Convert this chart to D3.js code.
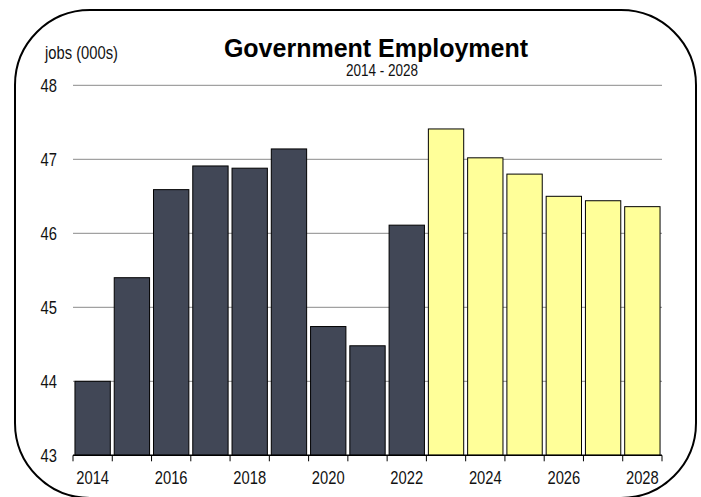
<!DOCTYPE html>
<html><head><meta charset="utf-8">
<script src="https://cdn.jsdelivr.net/npm/d3@7"></script>
<style>
body{margin:0;background:#fff;}
svg{display:block;}
.nar{font-family:"Liberation Sans",Arial,sans-serif;}
</style></head>
<body>
<svg id="c" width="701" height="497"></svg>
<script>
const years = [2014,2015,2016,2017,2018,2019,2020,2021,2022,2023,2024,2025,2026,2027,2028];
const jobs = [44.0,45.4,46.59,46.91,46.88,47.14,44.74,44.48,46.11,47.41,47.02,46.80,46.50,46.44,46.36];
const projected = [false,false,false,false,false,false,false,false,false,true,true,true,true,true,true];
const yTicks = [43,44,45,46,47,48];
const xLabels = [2014,2016,2018,2020,2022,2024,2026,2028];

const svg = d3.select("#c");
const L = 73, R = 662, T = 85.3, B = 455.3;
const SX = 0.82;

const x = d3.scaleBand().domain(years).range([L,R]).paddingInner(0.1).paddingOuter(0.05);
const y = d3.scaleLinear().domain([43,48]).range([B,T]);

// border
svg.append("rect").attr("x",15).attr("y",10).attr("width",681).attr("height",488)
  .attr("rx",75).attr("ry",75).attr("fill","#fff").attr("stroke","#000").attr("stroke-width",2);

// gridlines
svg.append("g").selectAll("line").data(yTicks.filter(d=>d>43)).join("line")
  .attr("x1",L).attr("x2",R).attr("y1",d=>y(d)).attr("y2",d=>y(d))
  .attr("stroke","#8a8a8a").attr("stroke-width",1);

// y labels
svg.append("g").attr("class","nar").selectAll("text").data(yTicks).join("text")
  .attr("transform",d=>`translate(57,${y(d)+6.5}) scale(${SX},1)`).attr("text-anchor","end")
  .attr("font-size",18).attr("fill","#111").text(d=>d);

// bars
svg.append("g").selectAll("rect").data(years).join("rect")
  .attr("x",d=>x(d)).attr("width",x.bandwidth())
  .attr("y",(d,i)=>y(jobs[i])).attr("height",(d,i)=>B-y(jobs[i]))
  .attr("fill",(d,i)=>projected[i]?"#ffff99":"#414756")
  .attr("stroke","#000").attr("stroke-width",1);

// x axis
const step = x.step();
const x0 = x.range()[0];
svg.append("line").attr("x1",L).attr("x2",R).attr("y1",B).attr("y2",B).attr("stroke","#000").attr("stroke-width",1.5);
svg.append("g").selectAll("line").data(d3.range(years.length+1)).join("line")
  .attr("x1",i=>x0+i*step).attr("x2",i=>x0+i*step).attr("y1",B).attr("y2",B+6)
  .attr("stroke","#000").attr("stroke-width",1);
svg.append("g").attr("class","nar").selectAll("text").data(xLabels).join("text")
  .attr("transform",d=>`translate(${x(d)+x.bandwidth()/2},${B+29}) scale(${SX},1)`).attr("text-anchor","middle")
  .attr("font-size",18).attr("fill","#111").text(d=>d);

// titles
svg.append("text").attr("x",376).attr("y",57).attr("text-anchor","middle")
  .attr("font-family","Liberation Sans, Arial, sans-serif").attr("font-weight","bold")
  .attr("font-size",25).attr("fill","#000").text("Government Employment");
svg.append("text").attr("class","nar").attr("transform",`translate(382,75.5) scale(${SX},1)`).attr("text-anchor","middle")
  .attr("font-size",16.5).attr("fill","#111").text("2014 - 2028");
svg.append("text").attr("class","nar").attr("transform",`translate(45,59) scale(${SX},1)`)
  .attr("font-size",18).attr("fill","#111").text("jobs (000s)");
</script>
</body></html>
